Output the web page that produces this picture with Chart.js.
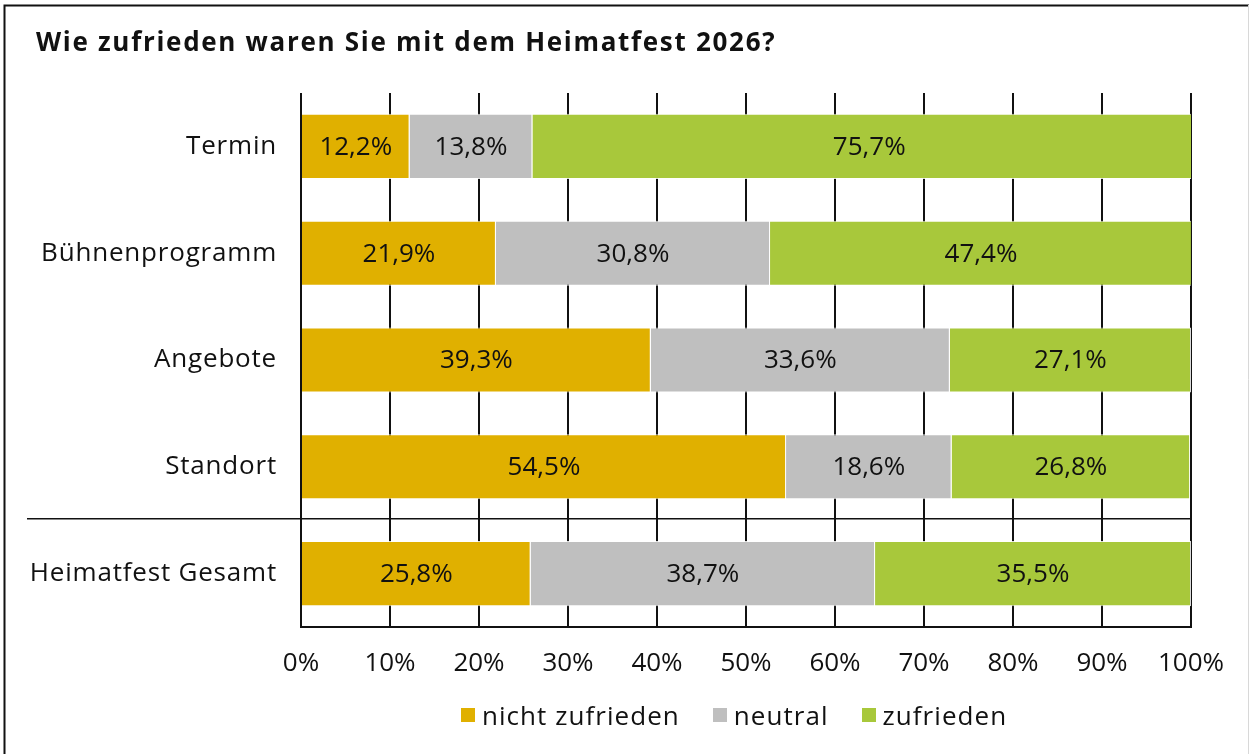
<!DOCTYPE html>
<html><head><meta charset="utf-8">
<script src="https://cdn.jsdelivr.net/npm/chart.js@4.4.1/dist/chart.umd.min.js"></script>
<style>
html,body{margin:0;padding:0;background:#fff;}
#wrap{position:relative;width:1252px;height:754px;overflow:hidden;background:#fff;}
#c{position:absolute;left:0;top:0;}
#legend{position:absolute;left:461px;top:698px;height:34px;display:flex;align-items:center;font-family:"Open Sans",sans-serif;font-size:26px;letter-spacing:1.05px;color:#111;white-space:nowrap;}
.item{display:flex;align-items:center;margin-right:33px;}
.box{width:14px;height:14px;margin-right:7px;}
</style></head>
<body><div id="wrap"><canvas id="c" width="1252" height="754"></canvas><div id="legend"></div></div>
<script>
const titleText = 'Wie zufrieden waren Sie mit dem Heimatfest 2026?';
const categories = ['Termin', 'Bühnenprogramm', 'Angebote', 'Standort', 'Heimatfest Gesamt'];
const seriesNames = ['nicht zufrieden', 'neutral', 'zufrieden'];
const nichtZufrieden = [12.2, 21.9, 39.3, 54.5, 25.8];
const neutral = [13.8, 30.8, 33.6, 18.6, 38.7];
const zufrieden = [75.7, 47.4, 27.1, 26.8, 35.5];
const xTickValues = [0, 10, 20, 30, 40, 50, 60, 70, 80, 90, 100];
const seriesColors = ['#E0B000', '#BFBFBF', '#A8C83B'];

const FONT = '"Open Sans", sans-serif';
const seriesValues = [nichtZufrieden, neutral, zufrieden];

const fmt = v => v.toFixed(1).replace('.', ',') + '%';

// widen some text slightly (letter spacing) to match the reference typeface
function withSpacing(obj, fnName, ctxGetter, spacing, dx) {
  if (!obj || obj['_sp_' + fnName]) return;
  const orig = obj[fnName];
  obj[fnName] = function(...args) {
    const c = ctxGetter();
    c.save();
    c.letterSpacing = spacing;
    if (dx) c.translate(dx, 0);
    const r = orig.apply(this, args);
    c.restore();
    return r;
  };
  obj['_sp_' + fnName] = true;
}

const spacingPlugin = {
  id: 'spacing',
  afterLayout(chart) {
    withSpacing(chart.scales.y, 'drawLabels', () => chart.ctx, '0.8px', 0);
    withSpacing(chart.titleBlock, 'draw', () => chart.ctx, '1.7px', 20);
  }
};

const bgPlugin = {
  id: 'bg',
  beforeDraw(chart) {
    const ctx = chart.ctx;
    ctx.save();
    ctx.fillStyle = '#fff';
    ctx.fillRect(0, 0, chart.width, chart.height);
    ctx.restore();
  },
  afterDraw(chart) {
    const ctx = chart.ctx;
    ctx.save();
    ctx.strokeStyle = '#111';
    ctx.lineWidth = 2;
    ctx.beginPath();
    ctx.moveTo(4.5, 754); ctx.lineTo(4.5, 5.5); ctx.lineTo(1249, 5.5);
    ctx.stroke();
    ctx.strokeStyle = '#d8d8d8';
    ctx.lineWidth = 1;
    ctx.beginPath();
    ctx.moveTo(1248.5, 5); ctx.lineTo(1248.5, 754);
    ctx.stroke();
    ctx.restore();
  }
};

const labelPlugin = {
  id: 'barLabels',
  afterDatasetsDraw(chart) {
    const ctx = chart.ctx;
    const yScale = chart.scales.y;
    const area = chart.chartArea;
    ctx.save();
    ctx.letterSpacing = '0px';
    // separator line between detail rows and total
    const ySep = (yScale.getPixelForValue(3) + yScale.getPixelForValue(4)) / 2 - 1.5;
    ctx.strokeStyle = '#111';
    ctx.lineWidth = 1.5;
    ctx.beginPath();
    ctx.moveTo(27, ySep); ctx.lineTo(area.right, ySep);
    ctx.stroke();
    // value labels
    ctx.font = '26px ' + FONT;
    ctx.fillStyle = '#111';
    ctx.textAlign = 'center';
    ctx.textBaseline = 'middle';
    chart.data.datasets.forEach((ds, di) => {
      const meta = chart.getDatasetMeta(di);
      meta.data.forEach((el, i) => {
        const p = el.getCenterPoint();
        ctx.fillText(fmt(ds.data[i]), p.x, p.y + 1);
      });
    });
    ctx.restore();
  }
};

const chart = new Chart(document.getElementById('c'), {
  type: 'bar',
  data: {
    labels: categories,
    datasets: seriesNames.map((name, k) => ({
      label: name,
      data: seriesValues[k],
      backgroundColor: seriesColors[k],
      borderColor: 'rgba(255,255,255,0.85)',
      borderWidth: 1,
      barPercentage: 0.61,
      categoryPercentage: 1.0
    }))
  },
  options: {
    indexAxis: 'y',
    responsive: false,
    animation: false,
    devicePixelRatio: 1,
    layout: { padding: { left: 16, right: 61, top: 0, bottom: 0 } },
    plugins: {
      legend: { display: false },
      tooltip: { enabled: false },
      title: {
        display: true,
        text: titleText,
        align: 'start',
        color: '#111',
        font: { family: FONT, size: 26, weight: 'bold', lineHeight: 1.2 },
        padding: { top: 28, bottom: 33.8 }
      }
    },
    scales: {
      x: {
        stacked: true,
        min: 0,
        max: 100,
        afterBuildTicks: s => { s.ticks = xTickValues.map(v => ({ value: v })); },
        afterFit: s => { s.height = 127; },
        grid: { color: '#111', lineWidth: 2, drawTicks: false },
        border: { display: true, color: '#111', width: 2 },
        ticks: {
          padding: 21,
          color: '#111',
          font: { family: FONT, size: 26 },
          callback: v => v + '%'
        }
      },
      y: {
        stacked: true,
        afterFit: s => { s.width = 285; },
        grid: { display: false, drawTicks: false },
        border: { display: false },
        ticks: {
          padding: 24,
          color: '#111',
          font: { family: FONT, size: 26 }
        }
      }
    }
  },
  plugins: [spacingPlugin, bgPlugin, labelPlugin]
});

// HTML legend built from the dataset names/colours
const legend = document.getElementById('legend');
seriesNames.forEach((name, k) => {
  const it = document.createElement('div');
  it.className = 'item';
  const b = document.createElement('span');
  b.className = 'box';
  b.style.background = seriesColors[k];
  const t = document.createElement('span');
  t.textContent = name;
  it.appendChild(b); it.appendChild(t);
  legend.appendChild(it);
});
</script>
</body></html>
